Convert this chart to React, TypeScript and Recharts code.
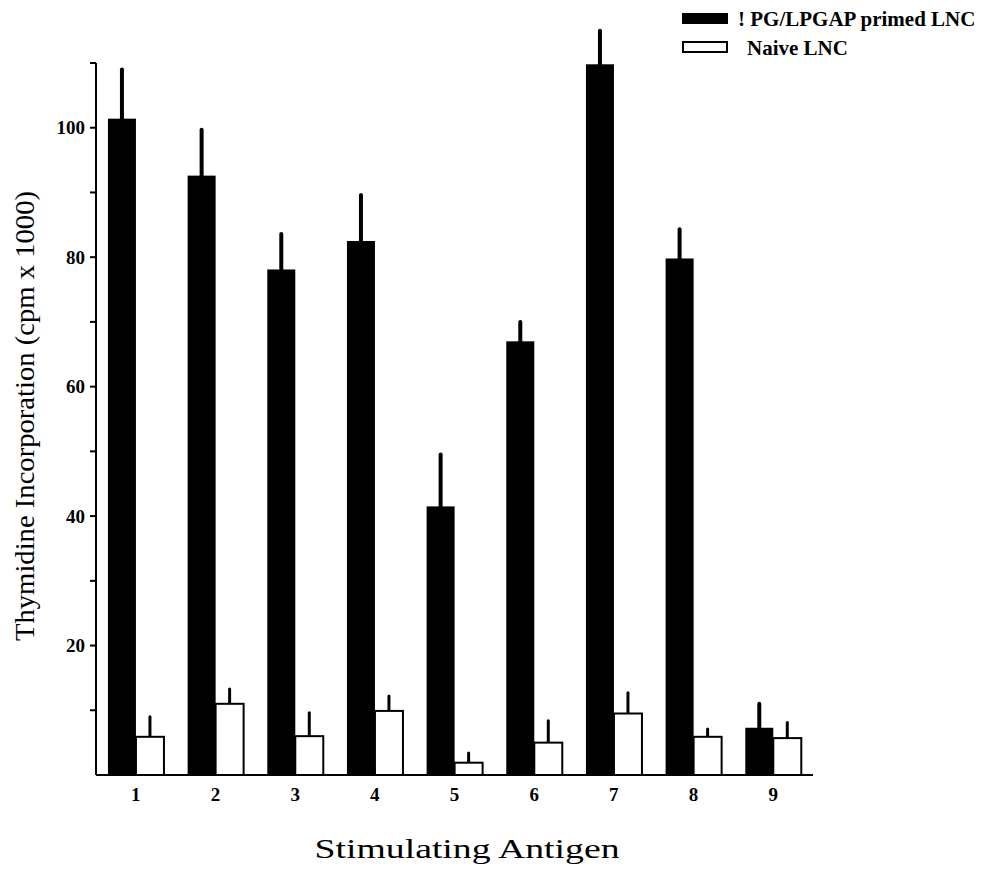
import { BarChart, Bar, XAxis, YAxis, Customized } from 'recharts'

// Stimulating antigen numbers on the x axis
const antigens = ['1', '2', '3', '4', '5', '6', '7', '8', '9']

// Thymidine incorporation (cpm x 1000)
const primedMean = [101.4, 92.6, 78.1, 82.5, 41.5, 67.0, 109.8, 79.8, 7.3]
const primedErr = [7.6, 7.1, 5.5, 7.1, 8.0, 3.0, 5.2, 4.5, 3.7]
const naiveMean = [5.9, 11.0, 6.0, 9.9, 1.9, 5.0, 9.5, 5.9, 5.7]
const naiveErr = [3.1, 2.3, 3.6, 2.3, 1.5, 3.4, 3.2, 1.2, 2.4]

const yTicks = [10, 20, 30, 40, 50, 60, 70, 80, 90, 100, 110]
const seriesNames = ['! PG/LPGAP primed LNC', 'Naive LNC']

const FONT = '"Liberation Serif", "Times New Roman", serif'

const data = antigens.map((a, i) => ({
  antigen: a,
  primed: primedMean[i],
  primedErr: primedErr[i],
  naive: naiveMean[i],
  naiveErr: naiveErr[i],
}))

// bar + one-sided error bar, scaled from the bar's own geometry
const barWithErr = (valKey: string, errKey: string, errWidth: number) => (props: any) => {
  const { x, y, width, height, fill, stroke, strokeWidth, payload } = props
  const v = payload[valKey]
  const e = payload[errKey]
  const perUnit = v ? height / v : 0
  const cx = x + width / 2
  return (
    <g>
      <line x1={cx} x2={cx} y1={y} y2={y - e * perUnit} stroke="#000" strokeWidth={errWidth} strokeLinecap="round" />
      <rect x={x} y={y} width={width} height={height} fill={fill} stroke={stroke} strokeWidth={strokeWidth} />
    </g>
  )
}

const Overlay = () => (
  <g fontFamily={FONT} fill="#000">
    <text
      x={0}
      y={0}
      transform="translate(34, 416) rotate(-90)"
      textAnchor="middle"
      fontSize={28}
      textLength={450}
      lengthAdjust="spacingAndGlyphs"
    >
      Thymidine Incorporation (cpm x 1000)
    </text>
    <text x={467} y={858} textAnchor="middle" fontSize={28} textLength={305} lengthAdjust="spacingAndGlyphs">
      Stimulating Antigen
    </text>
    {/* legend */}
    <rect x={682} y={13} width={46} height={11} fill="#000" />
    <text x={738} y={26} fontSize={21} fontWeight="bold">
      {seriesNames[0]}
    </text>
    <rect x={683} y={42} width={44} height={10} fill="#fff" stroke="#000" strokeWidth={2} />
    <text x={747} y={55} fontSize={21} fontWeight="bold">
      {seriesNames[1]}
    </text>
  </g>
)

export default function App() {
  return (
    <div style={{ position: 'absolute', left: 0, top: 0, background: '#fff' }}>
      <BarChart
        width={982}
        height={874}
        data={data}
        margin={{ top: 63, right: 169, bottom: 69, left: 36 }}
        barCategoryGap="15%"
        barGap={0}
      >
        <XAxis
          dataKey="antigen"
          axisLine={{ stroke: '#000', strokeWidth: 2 }}
          tickLine={false}
          tickSize={6}
          tickMargin={7}
          tick={{ fill: '#000', fontSize: 19, fontWeight: 'bold', fontFamily: FONT }}
        />
        <YAxis
          width={60}
          domain={[0, 110]}
          ticks={yTicks}
          interval={0}
          tickFormatter={(v: number) => (v % 20 === 0 ? String(v) : '')}
          axisLine={{ stroke: '#000', strokeWidth: 2 }}
          tickLine={{ stroke: '#000', strokeWidth: 2 }}
          tickSize={6}
          tickMargin={5}
          tick={{ fill: '#000', fontSize: 19, fontWeight: 'bold', fontFamily: FONT }}
        />
        <Bar
          dataKey="primed"
          name={seriesNames[0]}
          fill="#000"
          stroke="#000"
          strokeWidth={0}
          isAnimationActive={false}
          shape={barWithErr('primed', 'primedErr', 4)}
        />
        <Bar
          dataKey="naive"
          name={seriesNames[1]}
          fill="#fff"
          stroke="#000"
          strokeWidth={2}
          isAnimationActive={false}
          shape={barWithErr('naive', 'naiveErr', 3)}
        />
        <Customized component={Overlay} />
      </BarChart>
    </div>
  )
}
